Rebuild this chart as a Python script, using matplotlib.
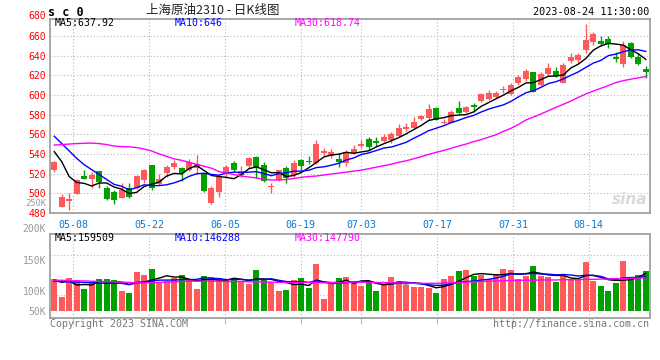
import numpy as np
import pandas as pd
import matplotlib
matplotlib.use('Agg')
import matplotlib.pyplot as plt
from matplotlib.transforms import blended_transform_factory, offset_copy

# ---------------- data ----------------
holidays = ['2023-05-01', '2023-05-02', '2023-05-03', '2023-06-22', '2023-06-23']
dates = [d.strftime('%Y-%m-%d') for d in pd.bdate_range('2023-04-28', '2023-08-24')
         if d.strftime('%Y-%m-%d') not in holidays]

tick_labels = ['05-08', '05-22', '06-05', '06-19', '07-03', '07-17', '07-31', '08-14']

opens = [523.6, 486.3, 492.5, 499.0, 517.8, 514.5, 522.6, 505.0, 501.6, 495.5,
         505.5, 505.0, 513.5, 528.7, 509.4, 520.3, 527.0, 526.0, 523.6, 525.3,
         519.6, 490.4, 501.6, 520.3, 531.0, 518.6, 528.0, 537.0, 528.7, 506.7,
         513.5, 526.0, 518.6, 533.8, 533.0, 530.4, 541.3, 537.9, 534.8, 530.4,
         540.6, 548.0, 555.0, 553.5, 553.5, 554.2, 558.2, 565.0, 566.7, 575.2,
         576.2, 587.0, 571.1, 571.8, 587.0, 583.0, 589.8, 594.2, 595.5, 597.5,
         605.0, 601.0, 611.8, 615.9, 623.0, 610.0, 621.0, 624.7, 612.5, 634.8,
         635.5, 645.7, 654.2, 654.8, 656.9, 638.9, 631.5, 653.1, 638.2, 626.4]
highs = [532.5, 499.0, 500.0, 514.5, 523.5, 522.0, 523.0, 507.0, 503.0, 510.0,
         510.0, 519.0, 524.5, 529.0, 519.6, 528.7, 534.0, 527.0, 534.5, 539.0,
         521.0, 507.0, 517.6, 529.0, 533.0, 527.7, 537.2, 537.5, 532.0, 510.8,
         524.0, 527.7, 533.8, 534.5, 538.0, 554.0, 545.7, 545.0, 540.6, 544.0,
         549.0, 554.0, 557.6, 557.0, 560.0, 562.6, 570.4, 571.0, 578.0, 580.0,
         590.8, 588.0, 575.2, 584.7, 594.0, 588.8, 592.0, 602.3, 605.0, 604.0,
         609.0, 611.8, 620.3, 626.0, 623.7, 623.7, 632.0, 628.7, 632.8, 642.3,
         643.0, 672.0, 664.3, 660.0, 660.0, 643.3, 655.2, 654.0, 642.3, 629.8]
lows = [521.9, 486.0, 483.0, 499.0, 514.0, 505.0, 505.0, 493.5, 489.0, 495.0,
        495.5, 504.0, 510.0, 503.0, 508.4, 517.0, 525.0, 512.0, 523.0, 520.0,
        501.6, 488.7, 496.5, 517.0, 522.0, 516.9, 525.3, 515.0, 511.8, 500.6,
        512.0, 510.8, 517.0, 523.6, 530.0, 529.8, 537.9, 535.5, 527.0, 527.7,
        540.0, 545.7, 544.0, 548.0, 552.5, 550.8, 557.6, 563.7, 566.0, 574.0,
        574.5, 574.0, 570.0, 571.0, 581.0, 582.0, 583.0, 593.0, 594.8, 596.5,
        602.3, 600.0, 610.0, 614.5, 602.6, 609.0, 619.0, 618.6, 611.8, 632.0,
        632.8, 642.3, 651.0, 649.8, 647.4, 633.8, 628.7, 637.2, 630.4, 617.0]
closes = [532.0, 496.5, 494.0, 513.5, 514.2, 518.6, 511.8, 494.0, 493.0, 503.3,
          496.5, 517.6, 523.6, 505.0, 514.2, 527.0, 531.0, 521.0, 532.0, 529.8,
          502.3, 505.0, 516.2, 527.0, 523.6, 522.6, 535.5, 525.3, 512.8, 507.7,
          523.6, 515.2, 531.0, 528.0, 532.0, 550.0, 543.0, 541.6, 532.1, 541.6,
          544.7, 550.0, 547.5, 551.5, 557.6, 560.0, 566.0, 567.0, 572.8, 578.6,
          585.4, 574.5, 572.8, 583.0, 582.0, 587.4, 588.1, 601.0, 602.3, 601.6,
          606.0, 610.0, 618.6, 624.7, 603.3, 621.3, 627.0, 619.6, 630.4, 638.9,
          640.6, 655.9, 662.0, 651.8, 651.8, 637.0, 650.8, 638.2, 631.5, 623.0]

# moving-average values before enough in-window data exists
ma5_head = [542.3, 532.1, 516.9, 511.0]
ma10_head = [558.0, 550.5, 543.0, 535.5, 529.0, 524.0, 519.0, 514.0, 509.0]
ma30 = [549.0, 549.5, 550.0, 550.5, 550.8, 551.0, 550.5, 549.5, 548.0, 547.4,
        547.2, 546.5, 545.0, 543.0, 540.0, 537.5, 535.0, 533.5, 531.5, 529.5,
        527.5, 525.5, 522.0, 520.5, 519.0, 517.5, 516.5, 515.5, 514.2, 513.5,
        513.5, 514.0, 515.0, 516.2, 517.0, 517.5, 518.5, 519.6, 520.5, 521.5,
        522.5, 523.5, 525.0, 526.5, 528.0, 529.5, 531.5, 533.0, 535.0, 537.2,
        539.5, 541.6, 543.5, 545.7, 548.0, 550.0, 552.5, 554.5, 557.0, 559.5,
        563.0, 566.0, 570.0, 574.5, 577.5, 580.6, 584.0, 587.4, 590.5, 593.8,
        597.5, 601.0, 604.0, 606.7, 609.5, 612.5, 614.5, 616.0, 617.3, 618.7]

volumes = [119.0, 90.2, 121.2, 117.4, 102.8, 114.7, 119.0, 119.0, 117.4, 99.5,
           96.3, 130.5, 125.6, 135.3, 114.7, 115.8, 120.2, 125.6, 117.4, 102.8,
           124.0, 121.8, 120.2, 117.4, 118.5, 115.8, 110.9, 133.7, 117.4, 114.7,
           99.5, 101.1, 117.4, 120.2, 104.4, 143.5, 86.5, 112.0, 121.2, 122.8,
           115.8, 107.7, 114.7, 99.5, 110.4, 121.8, 115.8, 109.3, 106.5, 106.5,
           104.9, 96.7, 119.0, 124.0, 132.1, 133.7, 124.0, 125.6, 119.0, 127.2,
           135.3, 133.7, 119.0, 124.0, 140.2, 124.0, 121.8, 114.7, 124.0, 119.0,
           119.0, 146.7, 116.3, 107.7, 100.0, 113.0, 148.4, 121.2, 125.6, 132.6]
vma5_head = [117.4, 113.6, 115.8, 109.3]
vma10_head = [115.3, 115.0, 114.5, 114.0, 113.5, 113.0, 112.5, 112.0, 112.0]
vma30 = [117.0, 117.0, 116.5, 116.0, 116.0, 115.5, 115.0, 115.0, 114.5, 114.0,
         113.5, 113.0, 113.0, 113.0, 113.5, 114.0, 114.5, 115.0, 115.5, 115.5,
         115.5, 115.5, 115.5, 115.0, 115.0, 115.0, 114.5, 114.5, 114.0, 114.0,
         113.5, 113.5, 113.5, 113.5, 113.5, 113.5, 113.0, 113.0, 113.0, 113.5,
         114.0, 114.0, 113.5, 113.5, 113.0, 113.0, 112.5, 112.5, 112.0, 112.0,
         112.0, 112.0, 112.5, 113.0, 113.5, 114.0, 114.5, 115.0, 115.5, 116.0,
         116.5, 116.5, 117.0, 117.0, 117.0, 117.5, 117.5, 117.5, 118.0, 118.0,
         118.0, 118.5, 118.5, 119.0, 119.0, 119.5, 119.5, 120.0, 120.5, 121.0]

VOL_FLOOR = 67.0

ma_texts = ['MA5:637.92', 'MA10:646', 'MA30:618.74']
vma_texts = ['MA5:159509', 'MA10:146288', 'MA30:147790']

# ---------------- helpers ----------------
def rolling(vals, n, head):
    s = pd.Series(vals).rolling(n).mean().to_numpy()
    s[:len(head)] = head
    return s

RED = '#FF5959'
GREEN = '#00A000'
MONO = 'DejaVu Sans Mono'
FRAME = '#A0A0A0'
GRID = '#B8B8B8'

o = np.array(opens); h = np.array(highs); l = np.array(lows); c = np.array(closes)
v = np.array(volumes)
x = np.arange(len(dates))
up = c >= o
cols = np.where(up, RED, GREEN)

ma5 = rolling(closes, 5, ma5_head)
ma10 = rolling(closes, 10, ma10_head)
vma5 = rolling(volumes, 5, vma5_head)
vma10 = rolling(volumes, 10, vma10_head)

n = len(dates)
tick_idx = [dates.index('2023-' + t) for t in tick_labels]
tick_pos = [-0.5 + i * n / (n - 1) for i in tick_idx]

fig = plt.figure(figsize=(6.6, 3.6), dpi=100)
fig.patch.set_facecolor('white')
W, H = 660.0, 360.0
def box(l_, t_, r_, b_):
    return [l_ / W, 1 - b_ / H, (r_ - l_) / W, (b_ - t_) / H]

ax = fig.add_axes(box(50.5, 19.0, 649.5, 213.3))
axv = fig.add_axes(box(50.5, 234.3, 649.5, 318.3))

for a in (ax, axv):
    a.set_xlim(-0.5, n - 0.5)
    for s in a.spines.values():
        s.set_color(FRAME)
        s.set_linewidth(1.3)
    a.set_xticks(tick_pos)
    a.grid(True, axis='x', color=GRID, linestyle=(0, (1, 2)), linewidth=0.8)
    a.set_axisbelow(True)

# ---- price panel ----
ax.set_ylim(479.6, 677.2)
ax.set_yticks(np.arange(480, 661, 20))
ax.set_yticklabels([str(t) for t in range(480, 661, 20)], fontfamily=MONO,
                   fontsize=7, color='#FF0000')
ax.grid(True, axis='y', color=GRID, linestyle=(0, (1, 2)), linewidth=0.8)
ax.tick_params(axis='y', length=0, pad=3)
ax.tick_params(axis='x', length=0, pad=4.5)
ax.set_xticklabels(tick_labels, fontfamily=MONO, fontsize=7.2, color='#0A7AD0')

bw = 0.8
ax.vlines(x, l, h, colors=cols, linewidth=1.0, zorder=2)
ax.bar(x, np.maximum(np.abs(c - o), 0.9), bottom=np.minimum(o, c), width=bw,
       color=cols, linewidth=0, zorder=3)
ax.plot(x, ma5, color='black', lw=1.0, zorder=4)
ax.plot(x, ma10, color='#0000FF', lw=1.0, zorder=4)
ax.plot(x, ma30, color='#FF00FF', lw=1.0, zorder=4)

bt = blended_transform_factory(ax.transAxes, ax.transData)
ax.text(-0.0075, 680, '680', transform=bt, ha='right', va='center',
        fontfamily=MONO, fontsize=7, color='#FF0000', clip_on=False)

for txt, xx, colr in zip(ma_texts, [0.0075, 0.208, 0.408], ['black', '#0000FF', '#FF00FF']):
    ax.text(xx, 0.978, txt, transform=ax.transAxes, ha='left', va='center',
            fontfamily=MONO, fontsize=7.1, color=colr, zorder=6)

ax.text(0.997, 0.03, 'sina', transform=ax.transAxes, ha='right', va='bottom',
        fontsize=11, color='#D9D9D9', style='italic', weight='bold', zorder=1)

# ---- volume panel ----
axv.set_ylim(55.0, 192.0)
axv.set_yticks([VOL_FLOOR, 100, 150])
axv.set_yticklabels(['50K', '100K', '150K'], fontfamily=MONO, fontsize=7, color='#999999')
axv.set_yticks([92.5, 157.7], minor=True)
axv.grid(True, axis='y', which='minor', color=GRID, linestyle=(0, (1, 2)), linewidth=0.8)
axv.tick_params(axis='y', which='both', length=0, pad=3)
axv.tick_params(axis='x', length=4, color=GRID, width=0.8, labelbottom=False)

axv.bar(x, v - VOL_FLOOR, bottom=VOL_FLOOR, width=bw, color=cols, linewidth=0, zorder=2)
axv.plot(x, vma5, color='black', lw=1.0, zorder=4)
axv.plot(x, vma10, color='#0000FF', lw=1.0, zorder=4)
axv.plot(x, vma30, color='#FF00FF', lw=1.0, zorder=4)

bv = blended_transform_factory(axv.transAxes, axv.transData)
axv.text(-0.0075, 200, '200K', transform=bv, ha='right', va='center',
         fontfamily=MONO, fontsize=7, color='#999999', clip_on=False)
bv_low = offset_copy(bv, fig=fig, x=0, y=-3.2, units='points')
axv.text(-0.0075, 250, '250K', transform=bv_low, ha='right', va='center',
         fontfamily=MONO, fontsize=6.3, color='#999999', clip_on=False)

for txt, xx, colr in zip(vma_texts, [0.0075, 0.208, 0.408], ['black', '#0000FF', '#FF00FF']):
    axv.text(xx, 0.955, txt, transform=axv.transAxes, ha='left', va='center',
             fontfamily=MONO, fontsize=7.1, color=colr, zorder=6)

# ---- header / footer ----
fig.text(48 / W, 1 - 12 / H, 's c 0', ha='left', va='center', fontfamily=MONO,
         fontsize=8.5, weight='bold', color='black')
fig.text(213 / W, 1 - 10 / H, '上海原油2310 - 日K线图', ha='center', va='center',
         fontfamily=['Noto Sans CJK SC', 'DejaVu Sans'], fontsize=9, color='#222222')
fig.text(649 / W, 1 - 12 / H, '2023-08-24 11:30:00', ha='right', va='center',
         fontfamily=MONO, fontsize=7.3, color='black')
fig.text(50 / W, 1 - 324 / H, 'Copyright 2023 SINA.COM', ha='left', va='center',
         fontfamily=MONO, fontsize=7.2, color='#777777')
fig.text(649 / W, 1 - 324 / H, 'http://finance.sina.com.cn', ha='right', va='center',
         fontfamily=MONO, fontsize=7.2, color='#777777')

fig.savefig('out.png', dpi=100)
